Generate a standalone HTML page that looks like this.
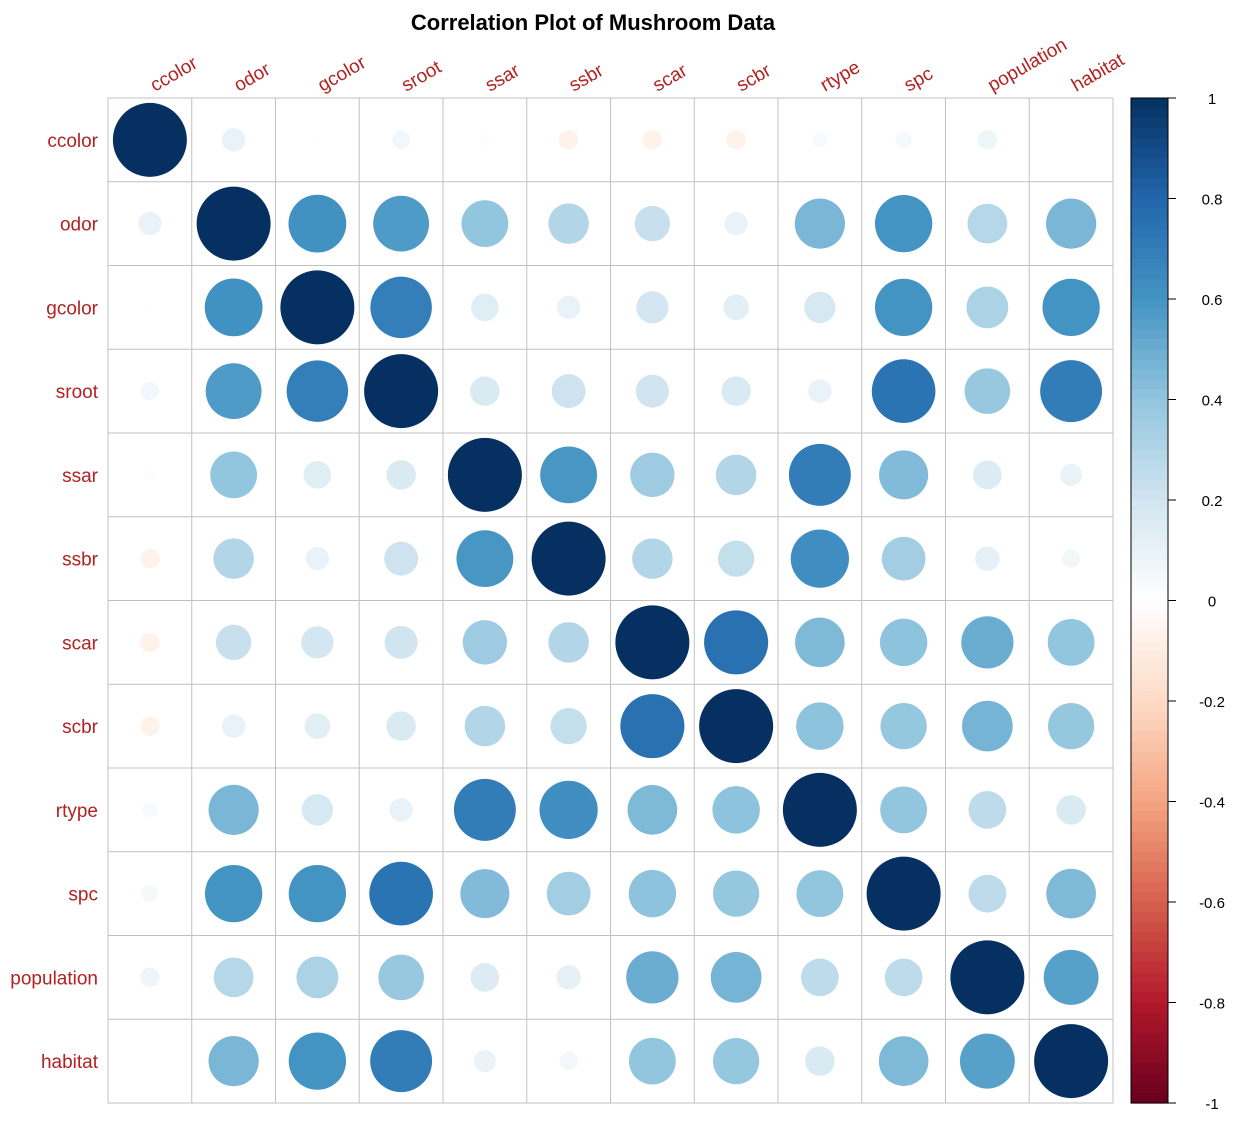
<!DOCTYPE html>
<html><head><meta charset="utf-8"><style>body{margin:0;background:#fff}svg{display:block}text{font-family:"Liberation Sans",sans-serif}</style></head>
<body>
<svg id="c" width="1241" height="1122">
<text x="593" y="30" text-anchor="middle" font-size="22" font-weight="bold">Correlation Plot of Mushroom Data</text>
</svg>
<script>
const vars=["ccolor","odor","gcolor","sroot","ssar","ssbr","scar","scbr","rtype","spc","population","habitat"];
const upper=[
[0.10,0.01,0.06,-0.02,-0.07,-0.07,-0.07,0.04,0.05,0.07,0.0],
[0.61,0.57,0.40,0.30,0.23,0.10,0.46,0.60,0.29,0.46],
[0.69,0.14,0.10,0.19,0.12,0.18,0.60,0.32,0.60],
[0.16,0.21,0.20,0.16,0.10,0.74,0.38,0.70],
[0.59,0.36,0.30,0.70,0.44,0.15,0.09],
[0.30,0.24,0.62,0.35,0.11,0.06],
[0.75,0.45,0.41,0.50,0.40],
[0.41,0.39,0.47,0.39],
[0.40,0.26,0.16],
[0.26,0.45],
[0.55]];
const ticks=[1,0.8,0.6,0.4,0.2,0,-0.2,-0.4,-0.6,-0.8,-1];
const tickLabels=["1","0.8","0.6","0.4","0.2","0","-0.2","-0.4","-0.6","-0.8","-1"];
const NS="http://www.w3.org/2000/svg",svg=document.getElementById('c');
const n=vars.length,x0=108,y0=98,W=1005,cs=W/n;
const pal=["#67001F","#B2182B","#D6604D","#F4A582","#FDDBC7","#FFFFFF","#D1E5F0","#92C5DE","#4393C3","#2166AC","#053061"];
function col(v){let t=(v+1)/2*10;let i=Math.min(9,Math.floor(t)),f=t-i;
const a=pal[i],b=pal[i+1];const h=(s,k)=>parseInt(s.substr(1+2*k,2),16);
let r=[0,1,2].map(k=>Math.round(h(a,k)+(h(b,k)-h(a,k))*f));return `rgb(${r})`;}
function mk(t,a){const e=document.createElementNS(NS,t);for(const k in a)e.setAttribute(k,a[k]);svg.appendChild(e);return e;}
const M=vars.map((_,i)=>vars.map((_,j)=>i==j?1:(i<j?upper[i][j-i-1]:upper[j][i-j-1])));
for(let k=0;k<=n;k++){
 let l=mk('line',{x1:x0+k*cs,x2:x0+k*cs,y1:y0,y2:y0+W,stroke:'#c0c0c0'});
 
 
 let l2=mk('line',{y1:y0+k*cs,y2:y0+k*cs,x1:x0,x2:x0+W,stroke:'#c0c0c0'});
 
 }
for(let i=0;i<n;i++)for(let j=0;j<n;j++){const v=M[i][j];
 const c=mk('circle',{cx:x0+(j+.5)*cs,cy:y0+(i+.5)*cs,r:Math.sqrt(Math.abs(v))*37,fill:col(v)});
 
 }
vars.forEach((v,i)=>{
 const t=mk('text',{x:98,y:y0+(i+.5)*cs+7,'text-anchor':'end','font-size':19,fill:'#B22222'});t.textContent=v;
 
 
 const cx=x0+(i+.5)*cs+5;
 const u=mk('text',{x:cx,y:y0-6,'font-size':19,fill:'#B22222',transform:`rotate(-30 ${cx} ${y0-6})`});u.textContent=v;
 
 });
const bx=1131,bw=37,by=98,bh=1005;
for(let k=0;k<100;k++){const v=1-(k+.5)/50;
 const r=mk('rect',{x:bx,y:by+k*bh/100,width:bw,height:bh/100+0.6,fill:col(v)});
 
 }
const fr=mk('rect',{x:bx,y:by,width:bw,height:bh,fill:'none',stroke:'#000'});


ticks.forEach((t,k)=>{const y=by+(1-t)/2*bh;
 const l=mk('line',{x1:bx+bw,x2:bx+bw+8,y1:y,y2:y,stroke:'#000'});
 
 
 const tx=mk('text',{x:1212,y:y+6,'text-anchor':'middle','font-size':15});tx.textContent=tickLabels[k];
 
 });
</script>
</body></html>
